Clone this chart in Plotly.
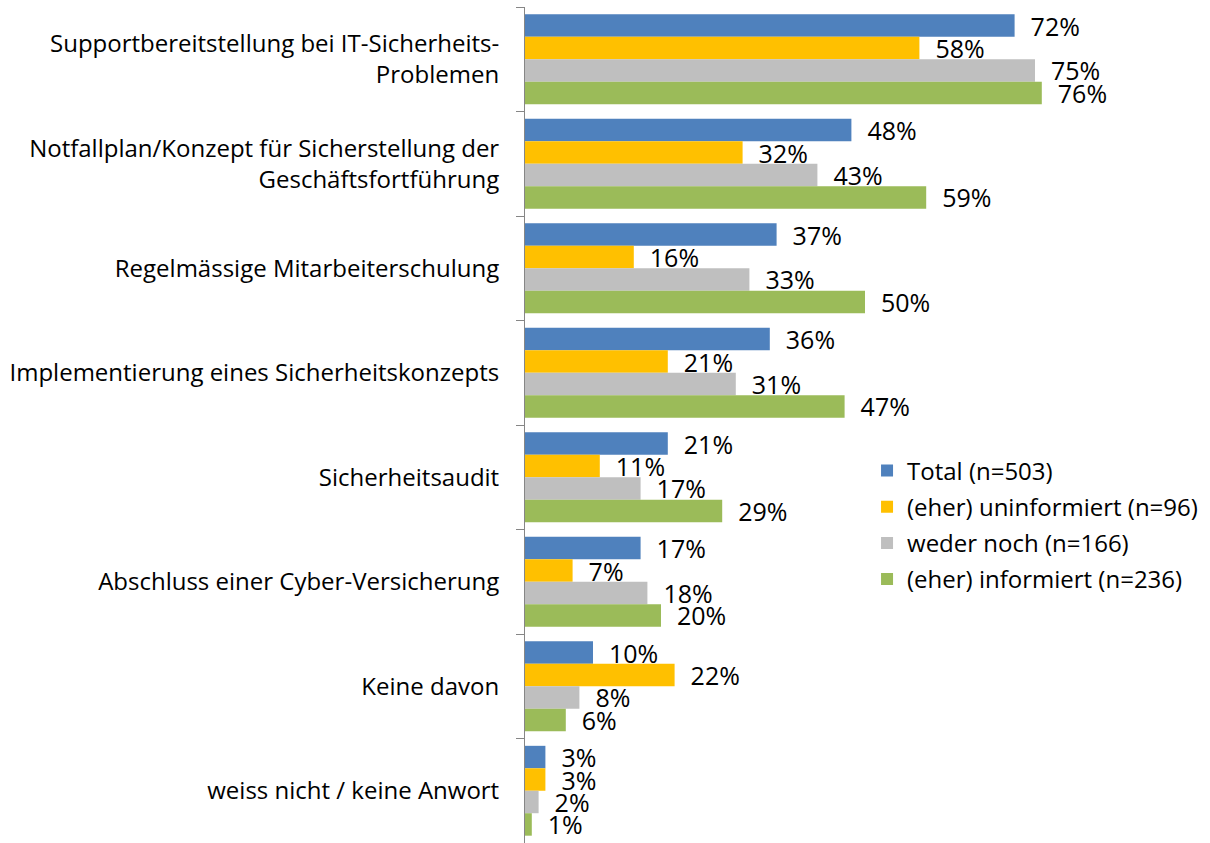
import plotly.graph_objects as go

categories = [
    "Supportbereitstellung bei IT-Sicherheits-<br>Problemen",
    "Notfallplan/Konzept für Sicherstellung der<br>Geschäftsfortführung",
    "Regelmässige Mitarbeiterschulung",
    "Implementierung eines Sicherheitskonzepts",
    "Sicherheitsaudit",
    "Abschluss einer Cyber-Versicherung",
    "Keine davon",
    "weiss nicht / keine Anwort",
]

series_names = [
    "Total (n=503)",
    "(eher) uninformiert (n=96)",
    "weder noch (n=166)",
    "(eher) informiert (n=236)",
]

total = [72, 48, 37, 36, 21, 17, 10, 3]
uninformiert = [58, 32, 16, 21, 11, 7, 22, 3]
weder_noch = [75, 43, 33, 31, 17, 18, 8, 2]
informiert = [76, 59, 50, 47, 29, 20, 6, 1]

series_values = [total, uninformiert, weder_noch, informiert]
colors = ["#4F81BD", "#FFC000", "#BFBFBF", "#9BBB59"]

FONT = "Open Sans"
FS = 24
FS_LABEL = 25

fig = go.Figure()
for i, (name, vals, col) in enumerate(zip(series_names, series_values, colors)):
    fig.add_trace(go.Bar(
        y=categories,
        x=vals,
        name=name,
        orientation="h",
        marker=dict(color=col, line=dict(width=0)),
        text=[f"\u00a0\u00a0{v}%" for v in vals],
        textposition="outside",
        textfont=dict(family=FONT, size=FS_LABEL, color="#000000"),
        constraintext="none",
        cliponaxis=False,
        legendgroup=f"g{i}",
    ))

fig.update_layout(
    width=1210,
    height=843,
    barmode="group",
    bargap=0.14,
    bargroupgap=0,
    plot_bgcolor="white",
    paper_bgcolor="white",
    margin=dict(l=525, r=5, t=7, b=0, autoexpand=False),
    font=dict(family=FONT, size=FS, color="#000000"),
    showlegend=True,
    legend=dict(
        xref="paper", yref="paper",
        x=0.503, y=0.472,
        xanchor="left", yanchor="top",
        font=dict(family=FONT, size=FS, color="#000000"),
        tracegroupgap=2,
        bgcolor="rgba(0,0,0,0)",
    ),
    xaxis=dict(
        range=[0, 100],
        visible=False,
        showgrid=False,
        zeroline=False,
        automargin=False,
    ),
    yaxis=dict(
        autorange="reversed",
        automargin=False,
        showline=True,
        linecolor="#868686",
        linewidth=1,
        ticks="outside",
        ticklen=8,
        tickcolor="#868686",
        tickson="boundaries",
        ticklabelstandoff=20,
        showgrid=False,
        tickfont=dict(family=FONT, size=FS, color="#000000"),
    ),
)

fig.write_html(
    "out.html",
    config={"displayModeBar": False},
    post_script="document.body.style.margin='0';",
)
